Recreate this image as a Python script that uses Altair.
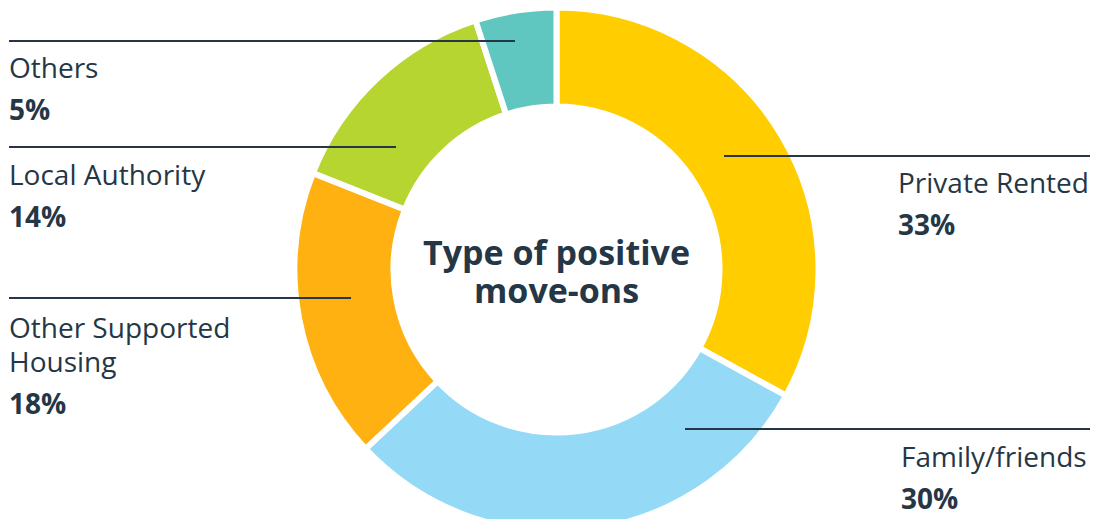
import altair as alt
import pandas as pd

# ---- data ----
categories = ["Private Rented", "Family/friends", "Other Supported Housing", "Local Authority", "Others"]
values = [33, 30, 18, 14, 5]
label_lines = [["Private Rented"], ["Family/friends"], ["Other Supported", "Housing"], ["Local Authority"], ["Others"]]
pct_labels = ["33%", "30%", "18%", "14%", "5%"]
title_lines = ["Type of positive", "move-ons"]

# ---- styles / layout (reference pixel coordinates) ----
colors = ["#FFCD00", "#94D9F6", "#FFB111", "#B6D531", "#5FC7BF"]
ink = "#253746"
FONT = "Open Sans"
W, H = 1082, 511          # chart size; page margin 8px on every side
OFF = 8
CX, CY = 556.5, 269.5     # donut centre
R_OUT, R_IN, GAP = 259, 166, 6
# per category: leader y, leader x0, leader x1, text x, first baseline
leader = {
    "Private Rented":          (156, 724, 1090, 898, 193),
    "Family/friends":          (429, 685, 1090, 901, 467),
    "Other Supported Housing": (298, 9, 351, 9, 338),
    "Local Authority":         (147, 9, 396, 9, 185),
    "Others":                  (41, 9, 515, 9, 78),
}
LINE_H = 34
PCT_GAP = 42
TITLE_BASE, TITLE_LH = 265, 38

# ---- tables ----
arc_df = pd.DataFrame({"category": categories, "value": values, "idx": list(range(len(categories)))})

rule_rows, text_rows, pct_rows = [], [], []
for cat, lines, pct in zip(categories, label_lines, pct_labels):
    ly, lx0, lx1, tx, tb = leader[cat]
    rule_rows.append({"category": cat, "y": ly, "x0": lx0, "x1": lx1})
    text_rows.append({"t": lines, "x": tx, "y": tb})
    pct_rows.append({"t": pct, "x": tx, "y": tb + (len(lines) - 1) * LINE_H + PCT_GAP})
rule_df = pd.DataFrame(rule_rows)
label_df = pd.DataFrame(text_rows)
pct_df = pd.DataFrame(pct_rows)
title_df = pd.DataFrame({"t": [title_lines], "x": [CX], "y": [TITLE_BASE]})

xs = alt.Scale(domain=[OFF, W + OFF], range=[0, W], nice=False, zero=False)
ys = alt.Scale(domain=[OFF, H + OFF], range=[0, H], nice=False, zero=False)

donut = alt.Chart(arc_df).mark_arc(
    radius=R_OUT + GAP / 2, innerRadius=R_IN - GAP / 2, stroke="white", strokeWidth=GAP
).encode(
    theta=alt.Theta("value:Q", stack=True),
    color=alt.Color("category:N", scale=alt.Scale(domain=categories, range=colors), legend=None),
    order=alt.Order("idx:Q"),
    x=alt.value(CX - OFF),
    y=alt.value(CY - OFF),
)

rules = alt.Chart(rule_df).mark_rule(color=ink, strokeWidth=2).encode(
    x=alt.X("x0:Q", scale=xs, axis=None),
    x2="x1:Q",
    y=alt.Y("y:Q", scale=ys, axis=None),
)

labels = alt.Chart(label_df).mark_text(
    font=FONT, fontSize=28, fontWeight="normal", color=ink, align="left",
    baseline="alphabetic", lineHeight=LINE_H
).encode(
    x=alt.X("x:Q", scale=xs, axis=None),
    y=alt.Y("y:Q", scale=ys, axis=None),
    text="t",
)

pcts = alt.Chart(pct_df).mark_text(
    font=FONT, fontSize=28, fontWeight="bold", color=ink, align="left", baseline="alphabetic"
).encode(
    x=alt.X("x:Q", scale=xs, axis=None),
    y=alt.Y("y:Q", scale=ys, axis=None),
    text="t:N",
)

title = alt.Chart(title_df).mark_text(
    font=FONT, fontSize=34, fontWeight="bold", color=ink, align="center",
    baseline="alphabetic", lineHeight=TITLE_LH
).encode(
    x=alt.X("x:Q", scale=xs, axis=None),
    y=alt.Y("y:Q", scale=ys, axis=None),
    text="t",
)

chart = alt.layer(donut, rules, labels, pcts, title).properties(
    width=W, height=H, padding=0, autosize=alt.AutoSizeParams(type="none"), background="white"
).configure_view(stroke=None)

chart.save("out.html", embed_options={"renderer": "svg", "actions": False})
